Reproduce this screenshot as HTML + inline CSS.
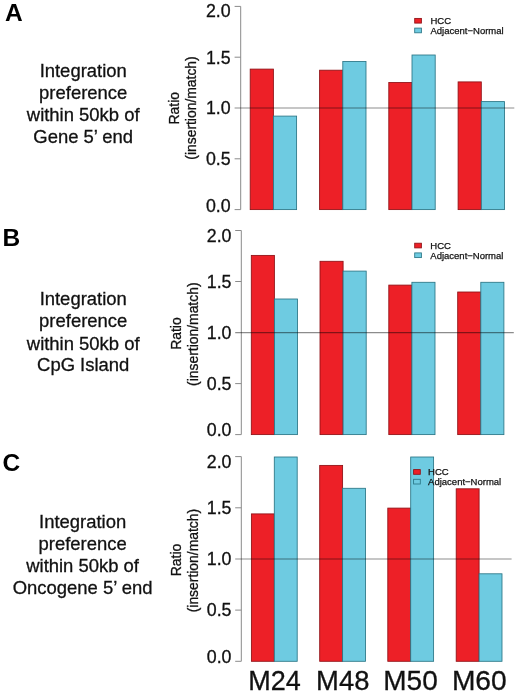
<!DOCTYPE html>
<html><head><meta charset="utf-8"><title>Figure</title>
<style>
html,body{margin:0;padding:0;background:#fff;}
svg{display:block;will-change:transform;}
text{font-family:"Liberation Sans", Arial, sans-serif;fill:#111;stroke:#111;stroke-width:0.3px;}
.tk{font-size:17.8px;}
.lb{font-size:18.45px;text-anchor:middle;}
.pl{font-size:24.5px;font-weight:bold;fill:#000;stroke:none;}
.lg{font-size:9.5px;stroke-width:0.25px;}
.yl{font-size:13.9px;text-anchor:middle;}
.xl{font-size:26.6px;}
</style></head><body>
<svg width="520" height="699" viewBox="0 0 520 699">
<rect width="520" height="699" fill="#fff"/>
<g id="panelA">
<rect x="250.2" y="69.1" width="23.2" height="140.5" fill="#ed2027" stroke="#8f1015" stroke-width="0.85"/>
<rect x="273.4" y="116.1" width="23.2" height="93.5" fill="#6ecbe1" stroke="#2a7585" stroke-width="0.85"/>
<rect x="319.6" y="70.2" width="23.2" height="139.4" fill="#ed2027" stroke="#8f1015" stroke-width="0.85"/>
<rect x="342.8" y="61.5" width="23.2" height="148.1" fill="#6ecbe1" stroke="#2a7585" stroke-width="0.85"/>
<rect x="388.8" y="82.5" width="23.2" height="127.1" fill="#ed2027" stroke="#8f1015" stroke-width="0.85"/>
<rect x="412.0" y="55.0" width="23.2" height="154.6" fill="#6ecbe1" stroke="#2a7585" stroke-width="0.85"/>
<rect x="458.1" y="81.9" width="23.2" height="127.7" fill="#ed2027" stroke="#8f1015" stroke-width="0.85"/>
<rect x="481.3" y="101.6" width="23.2" height="108.0" fill="#6ecbe1" stroke="#2a7585" stroke-width="0.85"/>
<path d="M234.6 6.4H240.7V209.6H234.6" fill="none" stroke="#8a8a8a" stroke-width="1"/>
<line x1="234.6" y1="158.8" x2="240.7" y2="158.8" stroke="#8a8a8a" stroke-width="1"/>
<line x1="234.6" y1="57.2" x2="240.7" y2="57.2" stroke="#8a8a8a" stroke-width="1"/>
<line x1="234.6" y1="108.0" x2="514.3" y2="108.0" stroke="#000" stroke-opacity="0.45" stroke-width="1.2"/>
<text class="tk" x="230.6" y="17.0" text-anchor="end">2.0</text>
<text class="tk" x="230.6" y="63.5" text-anchor="end">1.5</text>
<text class="tk" x="230.6" y="114.3" text-anchor="end">1.0</text>
<text class="tk" x="230.6" y="165.1" text-anchor="end">0.5</text>
<text class="tk" x="230.6" y="211.6" text-anchor="end">0.0</text>
<text class="yl" transform="translate(179.2 108.2) rotate(-90)">Ratio</text>
<text class="yl" transform="translate(195.9 108.0) rotate(-90)">(insertion/match)</text>
<rect x="414.7" y="18.4" width="6.7" height="4.7" fill="#ed2027" stroke="#8f1015" stroke-width="0.85"/>
<rect x="414.7" y="28.1" width="6.7" height="4.7" fill="#6ecbe1" stroke="#2a7585" stroke-width="0.85"/>
<text class="lg" x="430.5" y="23.9">HCC</text>
<text class="lg" x="430.5" y="33.8">Adjacent−Normal</text>
<text class="pl" x="5.0" y="21.0">A</text>
<text class="lb" x="83.2" y="76.9">Integration</text>
<text class="lb" x="83.2" y="99.0">preference</text>
<text class="lb" x="83.2" y="120.9">within 50kb of</text>
<text class="lb" x="83.2" y="143.0">Gene 5’ end</text>
</g>
<g id="panelB">
<rect x="251.3" y="255.4" width="23.1" height="179.2" fill="#ed2027" stroke="#8f1015" stroke-width="0.85"/>
<rect x="274.4" y="299.0" width="23.1" height="135.6" fill="#6ecbe1" stroke="#2a7585" stroke-width="0.85"/>
<rect x="320.0" y="261.3" width="23.1" height="173.3" fill="#ed2027" stroke="#8f1015" stroke-width="0.85"/>
<rect x="343.1" y="271.1" width="23.1" height="163.5" fill="#6ecbe1" stroke="#2a7585" stroke-width="0.85"/>
<rect x="388.8" y="285.1" width="23.1" height="149.5" fill="#ed2027" stroke="#8f1015" stroke-width="0.85"/>
<rect x="411.9" y="282.3" width="23.1" height="152.3" fill="#6ecbe1" stroke="#2a7585" stroke-width="0.85"/>
<rect x="457.7" y="292.0" width="23.1" height="142.6" fill="#ed2027" stroke="#8f1015" stroke-width="0.85"/>
<rect x="480.8" y="282.3" width="23.1" height="152.3" fill="#6ecbe1" stroke="#2a7585" stroke-width="0.85"/>
<path d="M235.2 230.5H241.3V434.6H235.2" fill="none" stroke="#8a8a8a" stroke-width="1"/>
<line x1="235.2" y1="383.6" x2="241.3" y2="383.6" stroke="#8a8a8a" stroke-width="1"/>
<line x1="235.2" y1="281.5" x2="241.3" y2="281.5" stroke="#8a8a8a" stroke-width="1"/>
<line x1="235.2" y1="332.6" x2="513.8" y2="332.6" stroke="#000" stroke-opacity="0.45" stroke-width="1.2"/>
<text class="tk" x="231.5" y="241.7" text-anchor="end">2.0</text>
<text class="tk" x="231.5" y="287.8" text-anchor="end">1.5</text>
<text class="tk" x="231.5" y="338.9" text-anchor="end">1.0</text>
<text class="tk" x="231.5" y="389.9" text-anchor="end">0.5</text>
<text class="tk" x="231.5" y="436.0" text-anchor="end">0.0</text>
<text class="yl" transform="translate(180.9 333.6) rotate(-90)">Ratio</text>
<text class="yl" transform="translate(197.6 334.2) rotate(-90)">(insertion/match)</text>
<rect x="414.7" y="243.2" width="6.7" height="4.7" fill="#ed2027" stroke="#8f1015" stroke-width="0.85"/>
<rect x="414.7" y="252.9" width="6.7" height="4.7" fill="#6ecbe1" stroke="#2a7585" stroke-width="0.85"/>
<text class="lg" x="430.3" y="248.7">HCC</text>
<text class="lg" x="430.3" y="258.6">Adjacent−Normal</text>
<text class="pl" x="2.5" y="245.8">B</text>
<text class="lb" x="83.2" y="305.2">Integration</text>
<text class="lb" x="83.2" y="327.3">preference</text>
<text class="lb" x="83.2" y="349.5">within 50kb of</text>
<text class="lb" x="83.2" y="370.7">CpG Island</text>
</g>
<g id="panelC">
<rect x="251.4" y="513.9" width="22.9" height="147.4" fill="#ed2027" stroke="#8f1015" stroke-width="0.85"/>
<rect x="274.3" y="457.0" width="22.9" height="204.3" fill="#6ecbe1" stroke="#2a7585" stroke-width="0.85"/>
<rect x="319.7" y="465.4" width="22.9" height="195.9" fill="#ed2027" stroke="#8f1015" stroke-width="0.85"/>
<rect x="342.6" y="488.3" width="22.9" height="173.0" fill="#6ecbe1" stroke="#2a7585" stroke-width="0.85"/>
<rect x="387.8" y="508.1" width="22.9" height="153.2" fill="#ed2027" stroke="#8f1015" stroke-width="0.85"/>
<rect x="410.7" y="457.0" width="22.9" height="204.3" fill="#6ecbe1" stroke="#2a7585" stroke-width="0.85"/>
<rect x="456.2" y="488.8" width="22.9" height="172.5" fill="#ed2027" stroke="#8f1015" stroke-width="0.85"/>
<rect x="479.1" y="573.8" width="22.9" height="87.5" fill="#6ecbe1" stroke="#2a7585" stroke-width="0.85"/>
<path d="M235.2 456.6H241.3V661.3H235.2" fill="none" stroke="#8a8a8a" stroke-width="1"/>
<line x1="235.2" y1="610.1" x2="241.3" y2="610.1" stroke="#8a8a8a" stroke-width="1"/>
<line x1="235.2" y1="507.8" x2="241.3" y2="507.8" stroke="#8a8a8a" stroke-width="1"/>
<line x1="235.2" y1="559.0" x2="511.6" y2="559.0" stroke="#000" stroke-opacity="0.45" stroke-width="1.2"/>
<text class="tk" x="231.5" y="468.0" text-anchor="end">2.0</text>
<text class="tk" x="231.5" y="514.1" text-anchor="end">1.5</text>
<text class="tk" x="231.5" y="565.2" text-anchor="end">1.0</text>
<text class="tk" x="231.5" y="616.4" text-anchor="end">0.5</text>
<text class="tk" x="231.5" y="663.1" text-anchor="end">0.0</text>
<text class="yl" transform="translate(180.9 560.0) rotate(-90)">Ratio</text>
<text class="yl" transform="translate(197.6 560.6) rotate(-90)">(insertion/match)</text>
<rect x="413.6" y="469.6" width="6.7" height="4.7" fill="#ed2027" stroke="#8f1015" stroke-width="0.85"/>
<rect x="413.6" y="479.3" width="6.7" height="4.7" fill="#6ecbe1" stroke="#2a7585" stroke-width="0.85"/>
<text class="lg" x="428.1" y="475.1">HCC</text>
<text class="lg" x="428.1" y="485.0">Adjacent−Normal</text>
<text class="pl" x="2.5" y="470.8">C</text>
<text class="lb" x="82.6" y="528.3">Integration</text>
<text class="lb" x="82.6" y="550.2">preference</text>
<text class="lb" x="82.6" y="572.3">within 50kb of</text>
<text class="lb" x="82.6" y="593.8">Oncogene 5’ end</text>
</g>
<text x="248.2" y="689.6" style="font-size:27.0px">M24</text>
<text x="316.1" y="689.6" style="font-size:27.4px">M48</text>
<text x="383.3" y="689.6" style="font-size:28.0px">M50</text>
<text x="451.9" y="689.6" style="font-size:28.2px">M60</text>
</svg>
</body></html>
